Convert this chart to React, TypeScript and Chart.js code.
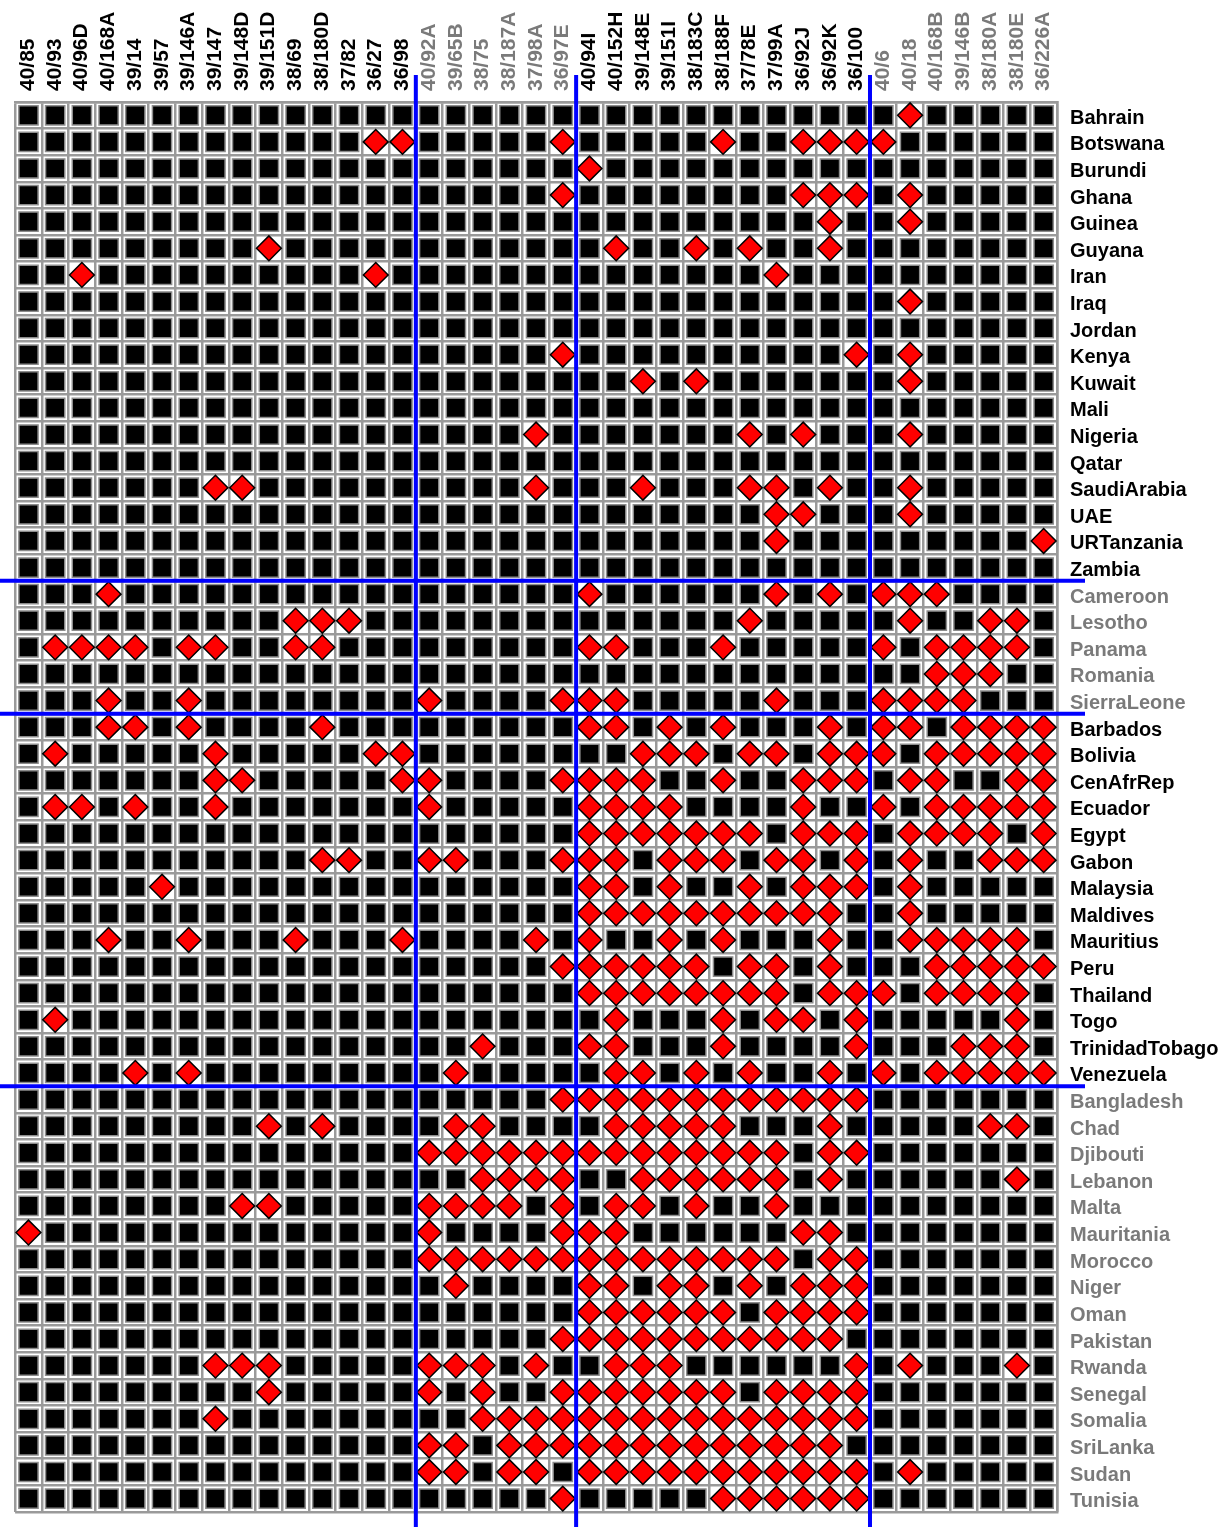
import React, { useEffect, useRef } from 'react';
import { Chart, registerables } from 'chart.js';

Chart.register(...registerables);

// ---- Column (resolution) labels, in four groups ----
const columnsA = ['40/85', '40/93', '40/96D', '40/168A', '39/14', '39/57', '39/146A', '39/147', '39/148D', '39/151D', '38/69', '38/180D', '37/82', '36/27', '36/98'];
const columnsB = ['40/92A', '39/65B', '38/75', '38/187A', '37/98A', '36/97E'];
const columnsC = ['40/94I', '40/152H', '39/148E', '39/151I', '38/183C', '38/188F', '37/78E', '37/99A', '36/92J', '36/92K', '36/100'];
const columnsD = ['40/6', '40/18', '40/168B', '39/146B', '38/180A', '38/180E', '36/226A'];

// ---- Row (country) labels, in four groups ----
const countriesA = ['Bahrain', 'Botswana', 'Burundi', 'Ghana', 'Guinea', 'Guyana', 'Iran', 'Iraq', 'Jordan', 'Kenya', 'Kuwait', 'Mali', 'Nigeria', 'Qatar', 'SaudiArabia', 'UAE', 'URTanzania', 'Zambia'];
const countriesB = ['Cameroon', 'Lesotho', 'Panama', 'Romania', 'SierraLeone'];
const countriesC = ['Barbados', 'Bolivia', 'CenAfrRep', 'Ecuador', 'Egypt', 'Gabon', 'Malaysia', 'Maldives', 'Mauritius', 'Peru', 'Thailand', 'Togo', 'TrinidadTobago', 'Venezuela'];
const countriesD = ['Bangladesh', 'Chad', 'Djibouti', 'Lebanon', 'Malta', 'Mauritania', 'Morocco', 'Niger', 'Oman', 'Pakistan', 'Rwanda', 'Senegal', 'Somalia', 'SriLanka', 'Sudan', 'Tunisia'];

// ---- Red-diamond cells: column indices (into the full column list) per country row ----
const redA: number[][] = [
  [33],
  [13, 14, 20, 26, 29, 30, 31, 32],
  [21],
  [20, 29, 30, 31, 33],
  [30, 33],
  [9, 22, 25, 27, 30],
  [2, 13, 28],
  [33],
  [],
  [20, 31, 33],
  [23, 25, 33],
  [],
  [19, 27, 29, 33],
  [],
  [7, 8, 19, 23, 27, 28, 30, 33],
  [28, 29, 33],
  [28, 38],
  [],
];
const redB: number[][] = [
  [3, 21, 28, 30, 32, 33, 34],
  [10, 11, 12, 27, 33, 36, 37],
  [1, 2, 3, 4, 6, 7, 10, 11, 21, 22, 26, 32, 34, 35, 36, 37],
  [34, 35, 36],
  [3, 6, 15, 20, 21, 22, 28, 32, 33, 34, 35],
];
const redC: number[][] = [
  [3, 4, 6, 11, 21, 22, 24, 26, 30, 32, 33, 35, 36, 37, 38],
  [1, 7, 13, 14, 23, 24, 25, 27, 28, 30, 31, 32, 34, 35, 36, 37, 38],
  [7, 8, 14, 15, 20, 21, 22, 23, 26, 29, 30, 31, 33, 34, 37, 38],
  [1, 2, 4, 7, 15, 21, 22, 23, 24, 29, 32, 34, 35, 36, 37, 38],
  [21, 22, 23, 24, 25, 26, 27, 29, 30, 31, 33, 34, 35, 36, 38],
  [11, 12, 15, 16, 20, 21, 22, 24, 25, 26, 28, 29, 31, 33, 36, 37, 38],
  [5, 21, 22, 24, 27, 29, 30, 31, 33],
  [21, 22, 23, 24, 25, 26, 27, 28, 29, 30, 33],
  [3, 6, 10, 14, 19, 21, 24, 26, 30, 33, 34, 35, 36, 37],
  [20, 21, 22, 23, 24, 25, 27, 28, 30, 34, 35, 36, 37, 38],
  [21, 22, 23, 24, 25, 26, 27, 28, 30, 31, 32, 34, 35, 36, 37],
  [1, 22, 26, 28, 29, 31, 37],
  [17, 21, 22, 26, 31, 35, 36, 37],
  [4, 6, 16, 22, 23, 25, 27, 30, 32, 34, 35, 36, 37, 38],
];
const redD: number[][] = [
  [20, 21, 22, 23, 24, 25, 26, 27, 28, 29, 30, 31],
  [9, 11, 16, 17, 22, 23, 24, 25, 26, 30, 36, 37],
  [15, 16, 17, 18, 19, 20, 21, 22, 23, 24, 25, 26, 27, 28, 30, 31],
  [17, 18, 19, 20, 23, 24, 25, 26, 27, 28, 30, 37],
  [8, 9, 15, 16, 17, 18, 20, 22, 23, 25, 28],
  [0, 15, 20, 21, 22, 29, 30],
  [15, 16, 17, 18, 19, 20, 21, 22, 23, 24, 25, 26, 27, 28, 30, 31],
  [16, 21, 22, 24, 25, 27, 29, 30, 31],
  [21, 22, 23, 24, 25, 26, 28, 29, 30, 31],
  [20, 21, 22, 23, 24, 25, 26, 27, 28, 29, 30],
  [7, 8, 9, 15, 16, 17, 19, 22, 23, 24, 31, 33, 37],
  [9, 15, 17, 20, 21, 22, 23, 24, 25, 26, 28, 29, 30, 31],
  [7, 17, 18, 19, 20, 21, 22, 23, 24, 25, 26, 27, 28, 29, 30, 31],
  [15, 16, 18, 19, 20, 21, 22, 23, 24, 25, 26, 27, 28, 29, 30],
  [15, 16, 18, 19, 21, 22, 23, 24, 25, 26, 27, 28, 29, 30, 31, 33],
  [20, 26, 27, 28, 29, 30, 31],
];

const groupColors = ['#000000', '#7a7a7a', '#000000', '#7a7a7a'];

const columnGroups = [columnsA, columnsB, columnsC, columnsD];
const countryGroups = [countriesA, countriesB, countriesC, countriesD];
const columns = columnGroups.flat();
const countries = countryGroups.flat();
const redMarks = [...redA, ...redB, ...redC, ...redD];

const columnColors = columnGroups.flatMap((g, gi) => g.map(() => groupColors[gi]));
const countryColors = countryGroups.flatMap((g, gi) => g.map(() => groupColors[gi]));

const breaksAfter = (groups: string[][]) => {
  const out: number[] = [];
  let acc = 0;
  groups.slice(0, -1).forEach((g) => {
    acc += g.length;
    out.push(acc - 1);
  });
  return out;
};
const columnBreaks = breaksAfter(columnGroups);
const countryBreaks = breaksAfter(countryGroups);

const dividerPlugin = {
  id: 'dividers',
  afterDraw(chart: any) {
    const { ctx, chartArea } = chart;
    const xs = chart.scales.x;
    const ys = chart.scales.y;
    ctx.save();
    ctx.strokeStyle = '#0000ff';
    ctx.lineWidth = 4;
    ctx.lineCap = 'butt';
    columnBreaks.forEach((i) => {
      const px = (xs.getPixelForValue(i) + xs.getPixelForValue(i + 1)) / 2;
      ctx.beginPath();
      ctx.moveTo(px, chartArea.top - 27);
      ctx.lineTo(px, chart.height);
      ctx.stroke();
    });
    countryBreaks.forEach((i) => {
      const py = (ys.getPixelForValue(i) + ys.getPixelForValue(i + 1)) / 2;
      ctx.beginPath();
      ctx.moveTo(0, py);
      ctx.lineTo(chartArea.right + 28, py);
      ctx.stroke();
    });
    ctx.restore();
  },
};

const FONT = "'Liberation Sans', Arial, Helvetica, sans-serif";

const zeroPadding = (axis: any) => {
  axis.paddingLeft = 0;
  axis.paddingRight = 0;
  axis.paddingTop = 0;
  axis.paddingBottom = 0;
};

export default function App() {
  const ref = useRef<HTMLCanvasElement | null>(null);

  useEffect(() => {
    if (!ref.current) return;
    const blackPts: { x: string; y: string }[] = [];
    const redPts: { x: string; y: string }[] = [];
    countries.forEach((c, r) => {
      const reds = new Set(redMarks[r]);
      columns.forEach((col, j) => {
        (reds.has(j) ? redPts : blackPts).push({ x: col, y: c });
      });
    });

    const chart = new Chart(ref.current, {
      type: 'scatter',
      data: {
        datasets: [
          {
            label: 'absent',
            data: blackPts,
            pointStyle: 'rect',
            pointRadius: 13.6,
            backgroundColor: '#000000',
            borderColor: '#8c8c8c',
            borderWidth: 1.5,
            clip: false,
          } as any,
          {
            label: 'present',
            data: redPts,
            pointStyle: 'rectRot',
            pointRadius: 12.4,
            backgroundColor: '#ff0000',
            borderColor: '#000000',
            borderWidth: 1.5,
            clip: false,
          } as any,
        ],
      },
      options: {
        animation: false,
        responsive: false,
        events: [],
        layout: { padding: { left: 14, top: 0, right: 0, bottom: 5 } },
        plugins: { legend: { display: false }, tooltip: { enabled: false } },
        scales: {
          x: {
            type: 'category',
            labels: columns,
            position: 'top',
            offset: true,
            grid: { offset: true, color: '#9a9a9a', lineWidth: 2.5, drawTicks: false },
            border: { display: true, color: '#9a9a9a', width: 2.5 },
            ticks: {
              autoSkip: false,
              minRotation: 90,
              maxRotation: 90,
              padding: 11,
              labelOffset: 25,
              font: { family: FONT, size: 21, weight: 'bold' },
              color: (c: any) => columnColors[c.index] || '#000',
            },
            afterFit: (axis: any) => {
              axis.height = 102;
              zeroPadding(axis);
            },
          } as any,
          y: {
            type: 'category',
            labels: countries,
            position: 'right',
            offset: true,
            grid: { offset: true, color: '#9a9a9a', lineWidth: 2.5, drawTicks: false },
            border: { display: true, color: '#9a9a9a', width: 2.5 },
            ticks: {
              autoSkip: false,
              padding: 13,
              labelOffset: 3,
              font: { family: FONT, size: 20, weight: 'bold' },
              color: (c: any) => countryColors[c.index] || '#000',
            },
            afterFit: (axis: any) => {
              axis.width = 169;
              zeroPadding(axis);
            },
          } as any,
        },
      },
      plugins: [dividerPlugin],
    });
    return () => chart.destroy();
  }, []);

  return (
    <div style={{ position: 'absolute', left: 0, top: 0, width: 1226, height: 1527, background: '#fff' }}>
      <canvas ref={ref} width={1226} height={1527} style={{ display: 'block' }} />
    </div>
  );
}
